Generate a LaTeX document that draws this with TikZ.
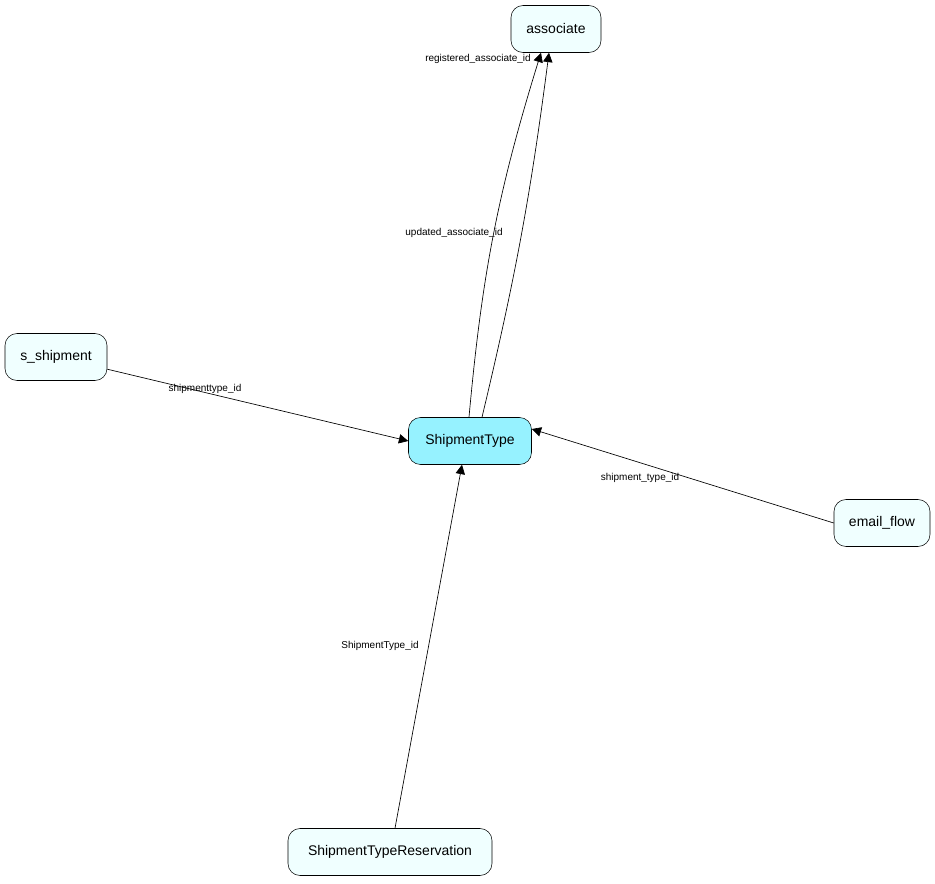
\documentclass[tikz,border=0pt]{standalone}
\usepackage{fontspec}
\setmainfont{Liberation Sans}
\usetikzlibrary{arrows.meta, positioning}
\definecolor{tablefill}{HTML}{F0FFFF}
\definecolor{focusfill}{HTML}{96F2FF}
\tikzset{
    table/.style={draw, rounded corners=9pt, fill=tablefill, minimum height=47*0.0264cm, inner xsep=7pt, font=\fontsize{10.5}{12}\selectfont},
    fklabel/.style={font=\fontsize{7.5}{9}\selectfont, inner sep=1pt},
    fk/.style={-{Triangle[length=7pt, width=7pt]}, line width=0.5pt},
}
\begin{document}
\begin{tikzpicture}[x=0.0264cm, y=-0.0264cm]

                            % Frame
                            \useasboundingbox (0,0) rectangle (935,883);

                            % Tables
                            \node[table, minimum width=90*0.0264cm] (associate) at (556,29) {associate};
                            \node[table, fill=focusfill, minimum width=123*0.0264cm] (shipmenttype) at (470,441) {ShipmentType};
                            \node[table, minimum width=102*0.0264cm] (sshipment) at (56,357) {s\_shipment};
                            \node[table, minimum width=96*0.0264cm] (emailflow) at (882,523) {email\_flow};
                            \node[table, minimum width=204*0.0264cm] (reservation) at (390,852) {ShipmentTypeReservation};

                            % Foreign keys to associate
                            \draw[fk] ([xshift=-1*0.0264cm]shipmenttype.north) to[bend left=6] ([xshift=-15*0.0264cm]associate.south);
                            \draw[fk] ([xshift=12*0.0264cm]shipmenttype.north) to[bend right=3] ([xshift=-7*0.0264cm]associate.south);
                            \node[fklabel] (lblregistered) at (478,59) {registered\_associate\_id};
                            \node[fklabel] (lblupdated) at (454,233) {updated\_associate\_id};

                            % Foreign keys to ShipmentType
                            \draw[fk] (sshipment) -- (shipmenttype.west);
                            \node[fklabel] (lblsshipment) at (205,389) {shipmenttype\_id};
                            \draw[fk] (emailflow.west) -- ([yshift=12*0.0264cm]shipmenttype.east);
                            \node[fklabel] (lblemail) at (640,478) {shipment\_type\_id};
                            \draw[fk] ([xshift=5*0.0264cm]reservation.north) -- ([xshift=-8*0.0264cm]shipmenttype.south);
                            \node[fklabel] (lblreservation) at (380,646) {ShipmentType\_id};

                        \end{tikzpicture}
\end{document}
